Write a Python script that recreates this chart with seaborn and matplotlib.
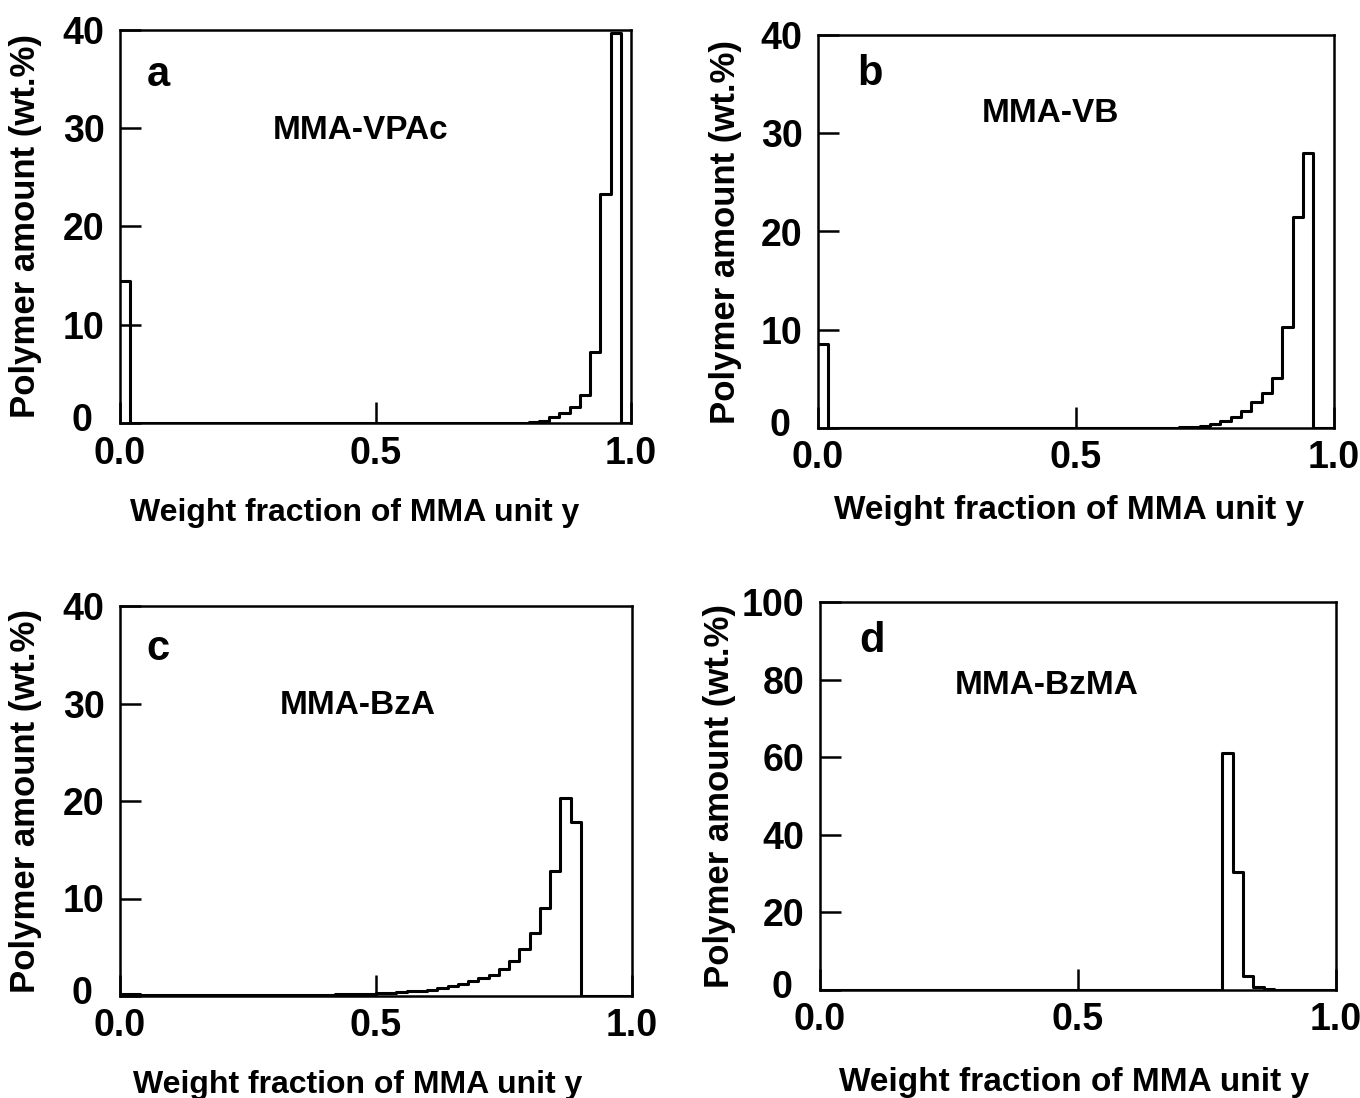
import numpy as np
import pandas as pd
import matplotlib
matplotlib.use("Agg")
import matplotlib.pyplot as plt
import matplotlib.transforms as mtransforms
import seaborn as sns

sns.set_theme(style="white")
plt.rcParams['font.family'] = ['Liberation Sans', 'DejaVu Sans']
plt.rcParams['font.weight'] = 'bold'

# bin width 0.02 from 0 to 1 (50 bins)
bin_width = 0.02
bin_range = (0.0, 1.0)
centers = np.arange(50) * bin_width + bin_width / 2

# panel a: MMA-VPAc (wt.% per bin)
vals_a = [14.5] + [0.0] * 39 + [0.1, 0.25, 0.6, 1.0, 1.6, 2.9, 7.2, 23.3, 39.7, 0.0]
# panel b: MMA-VB
vals_b = [8.5] + [0.0] * 34 + [0.1, 0.15, 0.25, 0.45, 0.75, 1.1, 1.7, 2.6, 3.6, 5.1,
                               10.3, 21.5, 28.0, 0.0, 0.0]
# panel c: MMA-BzA
vals_c = ([0.2, 0.2] + [0.1] * 19 + [0.2, 0.2, 0.2, 0.2, 0.3, 0.3, 0.4, 0.5, 0.5, 0.6,
          0.8, 1.0, 1.2, 1.5, 1.8, 2.2, 2.8, 3.6, 4.8, 6.5, 9.0, 12.8, 20.3, 17.8]
          + [0.0] * 5)
# panel d: MMA-BzMA
vals_d = [0.0] * 39 + [61.0, 30.5, 3.5, 0.9, 0.2] + [0.0] * 6

panel_letters = ["a", "b", "c", "d"]
panel_titles = ["MMA-VPAc", "MMA-VB", "MMA-BzA", "MMA-BzMA"]
ymax = [40, 40, 40, 100]
yticks = [[0, 10, 20, 30, 40], [0, 10, 20, 30, 40], [0, 10, 20, 30, 40],
          [0, 20, 40, 60, 80, 100]]
xticks = [0.0, 0.5, 1.0]
xticklabels = ["0.0", "0.5", "1.0"]
xlabel = "Weight fraction of MMA unit y"
ylabel = "Polymer amount (wt.%)"

W, H = 1360, 1098
fig = plt.figure(figsize=(W / 100, H / 100), dpi=100)

# axes boxes in pixels: left, top, right, bottom
boxes = [(120, 30, 631, 423), (818, 35, 1334, 428),
         (120, 606, 632, 996), (820, 602, 1336, 990)]
letter_pos = [(0.075, 0.885), (0.10, 0.90), (0.075, 0.89), (0.10, 0.90)]
title_pos = [(0.47, 0.745), (0.45, 0.80), (0.465, 0.746), (0.44, 0.786)]
xlabel_x = [0.46, 0.486, 0.465, 0.492]
xlabel_y = [-0.19, -0.17, -0.19, -0.198]
xlabel_size = [23, 24, 23, 24]
ylabel_x = [-0.153, -0.147, -0.153, -0.163]

all_vals = [vals_a, vals_b, vals_c, vals_d]
for i in range(4):
    l, t, r, b = boxes[i]
    ax = fig.add_axes([l / W, 1 - b / H, (r - l) / W, (b - t) / H])
    df = pd.DataFrame({"y": centers, "w": all_vals[i]})
    sns.histplot(data=df, x="y", weights="w", binwidth=bin_width, binrange=bin_range,
                 element="step", fill=False, color="black", linewidth=2.2, ax=ax)
    ax.set_xlim(0, 1)
    ax.set_ylim(0, ymax[i])
    ax.set_xticks(xticks)
    ax.set_xticklabels(xticklabels)
    ax.set_yticks(yticks[i])
    ax.tick_params(bottom=True, left=True, direction="in", length=15, width=1.8,
                   labelsize=27, color="black", labelcolor="black")
    ax.tick_params(axis="x", pad=9)
    ax.tick_params(axis="y", pad=11)
    for lab in ax.get_xticklabels() + ax.get_yticklabels():
        lab.set_fontweight("bold")
    # the "0" of the y axis sits up and to the left of the corner
    zero_lab = ax.get_yticklabels()[0]
    zero_lab.set_transform(zero_lab.get_transform() +
                           mtransforms.ScaledTranslation(-0.12, 0.06, fig.dpi_scale_trans))
    for s in ax.spines.values():
        s.set_linewidth(1.8)
        s.set_color("black")
    ax.set_xlabel(xlabel, fontsize=xlabel_size[i], fontweight="bold", color="black")
    ax.set_ylabel(ylabel, fontsize=25, fontweight="bold", color="black")
    ax.xaxis.set_label_coords(xlabel_x[i], xlabel_y[i])
    ax.yaxis.set_label_coords(ylabel_x[i], 0.5)
    ax.text(letter_pos[i][0], letter_pos[i][1], panel_letters[i], transform=ax.transAxes,
            fontsize=30, fontweight="bold", ha="center", va="center", color="black")
    ax.text(title_pos[i][0], title_pos[i][1], panel_titles[i], transform=ax.transAxes,
            fontsize=24, fontweight="bold", ha="center", va="center", color="black")
    ax.set_facecolor("white")

fig.savefig("out.png", dpi=100, facecolor="white")
